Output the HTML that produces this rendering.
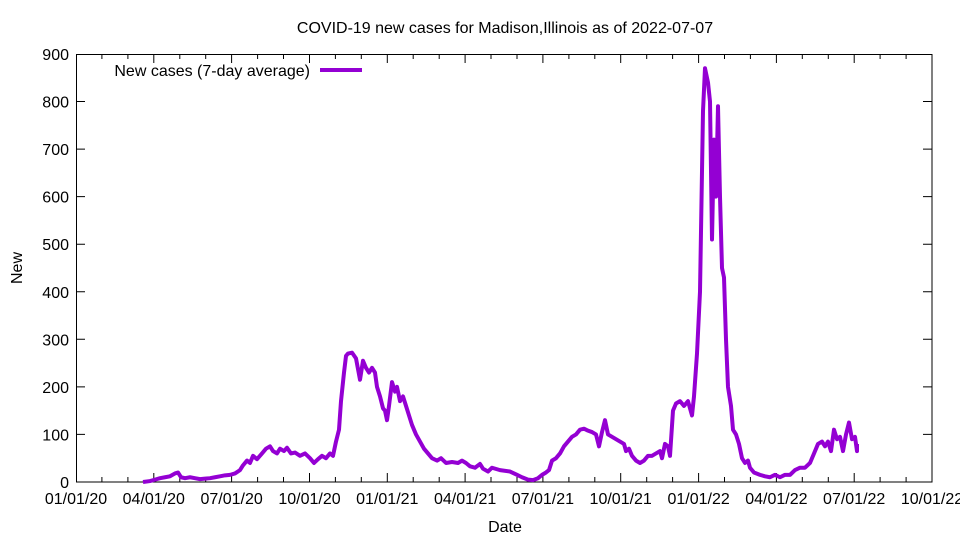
<!DOCTYPE html>
<html><head><meta charset="utf-8"><style>
body{margin:0;background:#fff}
svg{display:block;font-family:"Liberation Sans",sans-serif}
</style></head><body>
<svg width="960" height="540" viewBox="0 0 960 540" xmlns="http://www.w3.org/2000/svg">
<rect width="960" height="540" fill="#fff"/>
<text x="505" y="33" font-size="16" text-anchor="middle">COVID-19 new cases for Madison,Illinois as of 2022-07-07</text>
<g font-size="16" text-anchor="end">
<text x="69" y="488">0</text><text x="69" y="440.4">100</text><text x="69" y="392.9">200</text><text x="69" y="345.3">300</text><text x="69" y="297.8">400</text><text x="69" y="250.2">500</text><text x="69" y="202.6">600</text><text x="69" y="155.1">700</text><text x="69" y="107.5">800</text><text x="69" y="60">900</text>
</g>
<g font-size="16" text-anchor="middle">
<text x="76" y="504">01/01/20</text><text x="153.8" y="504">04/01/20</text><text x="231.6" y="504">07/01/20</text><text x="309.5" y="504">10/01/20</text><text x="387.3" y="504">01/01/21</text><text x="465.1" y="504">04/01/21</text><text x="542.9" y="504">07/01/21</text><text x="620.7" y="504">10/01/21</text><text x="698.6" y="504">01/01/22</text><text x="776.4" y="504">04/01/22</text><text x="854.2" y="504">07/01/22</text><text x="932" y="504">10/01/22</text>
</g>
<path stroke="#000" stroke-width="1" fill="none" d="
M76 434.4h9M76 386.9h9M76 339.3h9M76 291.8h9M76 244.2h9M76 196.6h9M76 149.1h9M76 101.5h9
M932 434.4h-9M932 386.9h-9M932 339.3h-9M932 291.8h-9M932 244.2h-9M932 196.6h-9M932 149.1h-9M932 101.5h-9
M153.8 482v-9M231.6 482v-9M309.5 482v-9M387.3 482v-9M465.1 482v-9M542.9 482v-9M620.7 482v-9M698.6 482v-9M776.4 482v-9M854.2 482v-9
M153.8 54v9M231.6 54v9M309.5 54v9M387.3 54v9M465.1 54v9M542.9 54v9M620.7 54v9M698.6 54v9M776.4 54v9M854.2 54v9
M101.9 482v-5M127.9 482v-5M179.8 482v-5M205.7 482v-5M257.6 482v-5M283.5 482v-5M335.4 482v-5M361.3 482v-5M413.2 482v-5M439.2 482v-5M491 482v-5M517 482v-5M568.9 482v-5M594.8 482v-5M646.7 482v-5M672.6 482v-5M724.5 482v-5M750.4 482v-5M802.3 482v-5M828.3 482v-5M880.1 482v-5M906.1 482v-5
M101.9 54v5M127.9 54v5M179.8 54v5M205.7 54v5M257.6 54v5M283.5 54v5M335.4 54v5M361.3 54v5M413.2 54v5M439.2 54v5M491 54v5M517 54v5M568.9 54v5M594.8 54v5M646.7 54v5M672.6 54v5M724.5 54v5M750.4 54v5M802.3 54v5M828.3 54v5M880.1 54v5M906.1 54v5"/>
<rect x="76.5" y="54.5" width="855.5" height="427.5" fill="none" stroke="#000"/>
<text x="505" y="532" font-size="16" text-anchor="middle">Date</text>
<text transform="translate(22,268) rotate(-90)" font-size="16" text-anchor="middle">New</text>
<text x="310" y="76" font-size="16" text-anchor="end">New cases (7-day average)</text>
<line x1="320" y1="70" x2="362" y2="70" stroke="#9400d3" stroke-width="4"/>
<polyline transform="translate(0,482) scale(1,-0.4756)" vector-effect="non-scaling-stroke" fill="none" stroke="#9400d3" stroke-width="4" stroke-linejoin="round" points="143,0 150,2 155,5 160,8 165,10 170,12 175,18 178,20 181,10 185,8 190,10 195,8 200,6 205,7 210,8 215,10 220,12 225,14 230,15 235,18 240,25 243,35 247,45 250,40 253,55 257,48 262,60 266,70 270,75 273,65 277,60 280,70 284,65 287,72 291,60 295,62 300,55 305,60 310,50 314,40 318,48 322,55 326,50 330,60 333,55 336,85 339,110 341,170 344,230 346,265 348,270 352,272 356,260 360,215 363,255 366,240 369,230 372,240 375,230 377,200 380,180 383,155 385,150 387,130 389,160 392,210 395,190 397,200 400,170 403,180 406,160 409,140 412,120 416,100 420,85 424,70 428,60 432,50 437,45 441,50 446,40 452,42 458,40 462,45 466,40 470,33 475,30 480,38 483,28 488,22 492,30 500,25 510,22 517,15 522,10 528,5 533,4 538,8 542,15 546,20 549,25 552,45 556,50 560,60 564,75 568,85 572,95 576,100 580,110 584,112 588,108 592,105 596,100 599,75 602,105 605,130 608,100 612,95 616,90 620,85 624,80 626,65 629,70 632,55 636,45 640,40 644,45 648,55 652,55 656,60 660,65 662,50 665,80 668,75 670,55 673,150 676,165 680,170 684,160 688,170 692,140 694,180 697,270 700,400 703,780 705,870 708,840 710,800 712,510 714,720 716,600 718,790 720,600 722,450 724,430 726,300 728,200 731,160 733,110 736,100 739,80 742,50 745,40 748,45 750,30 754,20 760,15 765,12 770,10 775,15 780,10 785,15 790,15 795,25 800,30 805,30 810,40 814,60 818,80 822,85 825,75 828,85 831,65 834,110 837,90 840,95 843,65 846,100 849,125 852,90 855,95 857,65 857,80"/>
</svg>
</body></html>
